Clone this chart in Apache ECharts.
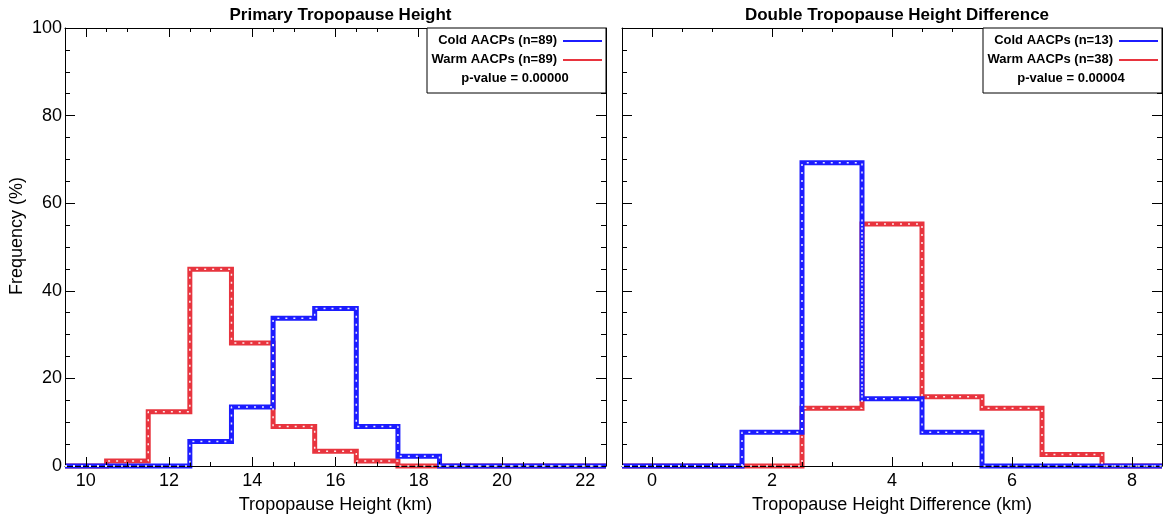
<!DOCTYPE html>
<html>
<head>
<meta charset="utf-8">
<script src="https://cdn.jsdelivr.net/npm/echarts@6/dist/echarts.min.js"></script>
<style>
  html, body { margin: 0; padding: 0; background: #fff; }
  #main { width: 1164px; height: 519px; }
</style>
</head>
<body>
<div id="main"></div>
<script>
// histogram bins (bin centres) and frequencies in %
var heightBins = [10, 11, 12, 13, 14, 15, 16, 17, 18, 19, 20, 21, 22];
var heightCold = [0, 0, 0, 5.62, 13.48, 33.71, 35.96, 8.99, 2.25, 0, 0, 0, 0];
var heightWarm = [0, 1.12, 12.36, 44.94, 28.09, 8.99, 3.37, 1.12, 0, 0, 0, 0, 0];

var diffBins = [0, 1, 2, 3, 4, 5, 6, 7, 8];
var diffCold = [0, 0, 7.69, 69.23, 15.38, 7.69, 0, 0, 0];
var diffWarm = [0, 0, 0, 13.16, 55.26, 15.79, 13.16, 2.63, 0];

var panelTitles = ['Primary Tropopause Height', 'Double Tropopause Height Difference'];
var xNames = ['Tropopause Height (km)', 'Tropopause Height Difference (km)'];
var yName = 'Frequency (%)';
var seriesNames = ['Cold AACPs', 'Warm AACPs'];
var counts = [[89, 89], [13, 38]];
var pValues = ['0.00000', '0.00004'];
var xTicks = [[10, 12, 14, 16, 18, 20, 22], [0, 2, 4, 6, 8]];
var yTicks = [0, 20, 40, 60, 80, 100];

var BLUE = '#1c1cff';
var RED = '#e8343e';
var FONT = '"Liberation Sans", Arial, Helvetica, sans-serif';

var myChart = echarts.init(document.getElementById('main'));

var grids = [
  { left: 65, top: 28, width: 541, height: 439 },
  { left: 622, top: 28, width: 540, height: 439 }
];
var xRanges = [[9.5, 22.5], [-0.5, 8.5]];

// line data: bin centres with step 'middle', padded out to the axis ends
function stepData(bins, vals, range) {
  var d = [[range[0], vals[0]]];
  for (var i = 0; i < bins.length; i++) d.push([bins[i], vals[i]]);
  d.push([range[1], vals[vals.length - 1]]);
  return d;
}

var xAxes = [], yAxes = [], series = [];
[0, 1].forEach(function (p) {
  ['bottom', 'top'].forEach(function (pos) {
    xAxes.push({
      gridIndex: p, type: 'value', position: pos,
      min: xRanges[p][0], max: xRanges[p][1], interval: 2,
      name: pos === 'bottom' ? xNames[p] : '',
      nameLocation: 'middle', nameGap: 30,
      nameTextStyle: { fontFamily: FONT, fontSize: 18, color: '#000' },
      z: 4,
      axisLine: { show: true, onZero: false, lineStyle: { color: '#000', width: 1 } },
      axisTick: { show: true, inside: true, length: 9, lineStyle: { color: '#000' },
        customValues: xTicks[p] },
      minorTick: { show: true, splitNumber: 4, length: 4, lineStyle: { color: '#000' } },
      axisLabel: {
        show: pos === 'bottom', fontFamily: FONT, fontSize: 18, color: '#000', margin: 6,
        customValues: xTicks[p]
      },
      splitLine: { show: false }
    });
  });
  ['left', 'right'].forEach(function (pos) {
    yAxes.push({
      gridIndex: p, type: 'value', position: pos,
      min: 0, max: 100, interval: 20,
      z: 4,
      axisLine: { show: true, onZero: false, lineStyle: { color: '#000', width: 1 } },
      axisTick: { show: true, inside: true, length: 10, lineStyle: { color: '#000' } },
      minorTick: { show: true, splitNumber: 4, length: 5, lineStyle: { color: '#000' } },
      axisLabel: {
        show: p === 0 && pos === 'left', fontFamily: FONT, fontSize: 18, color: '#000', margin: 3,
        customValues: yTicks
      },
      splitLine: { show: false }
    });
  });
});

var panels = [
  { bins: heightBins, cold: heightCold, warm: heightWarm },
  { bins: diffBins, cold: diffCold, warm: diffWarm }
];

panels.forEach(function (pn, p) {
  var sets = [[seriesNames[1], pn.warm, RED], [seriesNames[0], pn.cold, BLUE]];
  sets.forEach(function (s, k) {
    var data = stepData(pn.bins, s[1], xRanges[p]);
    // thick coloured step line
    series.push({
      name: s[0], type: 'line', step: 'middle', xAxisIndex: p * 2, yAxisIndex: p * 2,
      data: data, symbol: 'none', clip: false, z: 2 + k,
      lineStyle: { color: s[2], width: 5, join: 'miter', cap: 'butt' }
    });
    // white dotted centre line
    series.push({
      name: s[0] + ' dots', type: 'line', step: 'middle', xAxisIndex: p * 2, yAxisIndex: p * 2,
      data: data, symbol: 'none', clip: false, z: 6 + k, silent: true,
      lineStyle: { color: 'rgba(255,255,255,0.9)', width: 1.5, type: [2, 6] }
    });
  });
});

// titles and legend boxes
var titles = panelTitles.map(function (t, p) {
  return {
    text: t, left: grids[p].left + grids[p].width / 2, top: 2, textAlign: 'center',
    textStyle: { fontFamily: FONT, fontSize: 17, fontWeight: 'bold', color: '#000' }
  };
});

var graphics = [{
  type: 'text', x: 17, y: 236, rotation: Math.PI / 2,
  style: { text: yName, textAlign: 'center', textVerticalAlign: 'middle',
    fontFamily: FONT, fontSize: 18, fill: '#000' }
}];
[0, 1].forEach(function (p) {
  var right = grids[p].left + grids[p].width;
  var boxLeft = right - 179;
  graphics.push({
    type: 'rect', shape: { x: boxLeft, y: grids[p].top, width: right - boxLeft, height: 65 },
    style: { fill: '#fff', stroke: '#000', lineWidth: 1 }, z: 10
  });
  var colors = [BLUE, RED];
  seriesNames.forEach(function (nm, k) {
    var y = grids[p].top + 12 + k * 19;
    graphics.push({
      type: 'text', x: right - 49, y: y, z: 11,
      style: { text: nm + ' (n=' + counts[p][k] + ')', textAlign: 'right', textVerticalAlign: 'middle',
        fontFamily: FONT, fontSize: 13, fontWeight: 'bold', fill: '#000' }
    });
    graphics.push({
      type: 'line', z: 11,
      shape: { x1: right - 43, y1: y + 1, x2: right - 4, y2: y + 1 },
      style: { stroke: colors[k], lineWidth: 2 }
    });
  });
  graphics.push({
    type: 'text', x: right - 91, y: grids[p].top + 50, z: 11,
    style: { text: 'p-value = ' + pValues[p], textAlign: 'center', textVerticalAlign: 'middle',
      fontFamily: FONT, fontSize: 13, fontWeight: 'bold', fill: '#000' }
  });
});

var option = {
  backgroundColor: '#fff',
  animation: false,
  title: titles,
  grid: grids,
  xAxis: xAxes,
  yAxis: yAxes,
  series: series,
  graphic: graphics
};

myChart.setOption(option);
</script>
</body>
</html>
